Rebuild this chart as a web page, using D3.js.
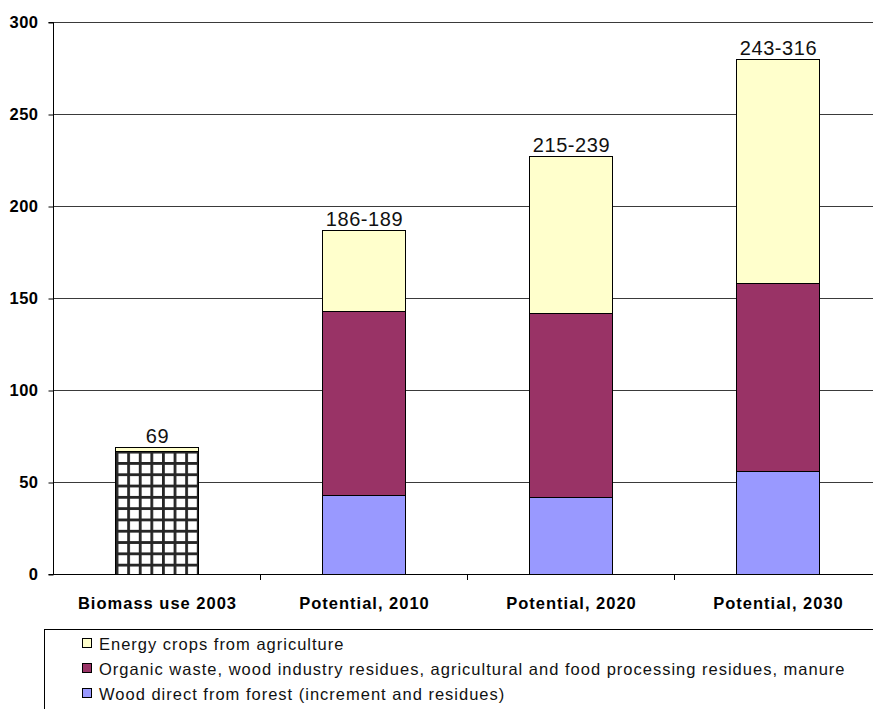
<!DOCTYPE html>
<html>
<head>
<meta charset="utf-8">
<script src="https://cdn.jsdelivr.net/npm/d3@7"></script>
<style>
  html, body { margin: 0; padding: 0; background: #fff; }
  svg { display: block; font-family: "Liberation Sans", Arial, sans-serif; }
</style>
</head>
<body>
<svg id="chart" width="873" height="709"></svg>
<script>
// Biomass use in 2003 and estimated potentials
const categories = ["Biomass use 2003", "Potential, 2010", "Potential, 2020", "Potential, 2030"];
const biomassUse = [67, 0, 0, 0];          // historic use, hatched
const woodForest = [0, 43, 42, 56];        // Wood direct from forest
const organicWaste = [0, 100, 100, 102];   // Organic waste, residues, manure
const energyCrops = [2, 44, 85, 122];      // Energy crops from agriculture
const rangeLabels = ["69", "186-189", "215-239", "243-316"];
const yTicks = [0, 50, 100, 150, 200, 250, 300];

const seriesNames = [
  "Energy crops from agriculture",
  "Organic waste, wood industry residues, agricultural and food processing residues, manure",
  "Wood direct from forest (increment and residues)"
];

const svg = d3.select("#chart");

const plot = { left: 53, right: 881, top: 22, bottom: 574 };

const x = d3.scaleBand().domain(categories).range([plot.left, plot.right]).padding(0);
const y = d3.scaleLinear().domain([0, 300]).range([plot.bottom, plot.top]);
const barW = x.bandwidth() * 0.4;

// hatch pattern for the historic bar
const defs = svg.append("defs");
const pat = defs.append("pattern")
  .attr("id", "grid")
  .attr("patternUnits", "userSpaceOnUse")
  .attr("width", 11.6).attr("height", 11.3)
  .attr("x", x(categories[0]) + x.bandwidth() / 2 - barW / 2 + 0.5)
  .attr("y", y(biomassUse[0]));
pat.append("rect").attr("width", 11.6).attr("height", 11.3).attr("fill", "#fff");
pat.append("rect").attr("x", 0).attr("y", 0).attr("width", 2.8).attr("height", 11.3).attr("fill", "#262626");
pat.append("rect").attr("x", 0).attr("y", 0).attr("width", 11.6).attr("height", 2.8).attr("fill", "#262626");

// horizontal gridlines
svg.append("g")
  .selectAll("line")
  .data(yTicks.filter(d => d > 0))
  .join("line")
  .attr("x1", plot.left).attr("x2", plot.right)
  .attr("y1", d => Math.round(y(d)) + 0.5).attr("y2", d => Math.round(y(d)) + 0.5)
  .attr("stroke", "#3a3a3a").attr("stroke-width", 1);

// stacked bars
const rows = categories.map((c, i) => ({
  cat: c,
  biomass: biomassUse[i],
  wood: woodForest[i],
  organic: organicWaste[i],
  crops: energyCrops[i]
}));
const keys = ["biomass", "wood", "organic", "crops"];
const fills = { biomass: "url(#grid)", wood: "#9999ff", organic: "#993366", crops: "#ffffcc" };
const stack = d3.stack().keys(keys)(rows);

svg.append("g")
  .selectAll("g")
  .data(stack)
  .join("g")
  .attr("fill", d => fills[d.key])
  .selectAll("rect")
  .data(d => d.filter(s => s[1] - s[0] > 0))
  .join("rect")
  .attr("x", d => Math.round(x(d.data.cat) + x.bandwidth() / 2 - barW / 2) + 0.5)
  .attr("width", Math.round(barW))
  .attr("y", d => Math.round(y(d[1])) + 0.5)
  .attr("height", d => Math.round(y(d[0])) - Math.round(y(d[1])))
  .attr("stroke", "#000").attr("stroke-width", 1);

// value labels above bars
const totals = rows.map(r => r.biomass + r.wood + r.organic + r.crops);
svg.append("g")
  .selectAll("text")
  .data(categories)
  .join("text")
  .attr("x", d => x(d) + x.bandwidth() / 2 + 1)
  .attr("y", (d, i) => y(totals[i]) - 4)
  .attr("text-anchor", "middle")
  .attr("font-size", 20)
  .attr("letter-spacing", 0.6)
  .attr("fill", "#111")
  .text((d, i) => rangeLabels[i]);

// y axis
const yAxis = d3.axisLeft(y).tickValues(yTicks).tickSize(5).tickPadding(10).tickFormat(d3.format("d"));
const gy = svg.append("g").attr("transform", `translate(${plot.left + 0.5},0)`).call(yAxis);
gy.select(".domain").attr("stroke", "#000").attr("d", `M-5,${plot.top + 0.5}H0V${plot.bottom + 0.5}H-5`);
gy.selectAll(".tick line").attr("stroke", "#000").attr("transform", "translate(0,0.5)");
gy.selectAll(".tick text")
  .attr("font-family", "Liberation Sans, Arial, sans-serif")
  .attr("font-size", 16.5).attr("font-weight", "bold")
  .attr("letter-spacing", 0.5).attr("fill", "#000");

// x axis with ticks between categories
const xg = svg.append("g");
xg.append("line")
  .attr("x1", plot.left).attr("x2", plot.right)
  .attr("y1", plot.bottom + 0.5).attr("y2", plot.bottom + 0.5)
  .attr("stroke", "#000");
xg.selectAll("line.tick")
  .data(categories.slice(1))
  .join("line")
  .attr("class", "tick")
  .attr("x1", d => Math.round(x(d)) + 0.5).attr("x2", d => Math.round(x(d)) + 0.5)
  .attr("y1", plot.bottom).attr("y2", plot.bottom + 6)
  .attr("stroke", "#000");
xg.selectAll("text")
  .data(categories)
  .join("text")
  .attr("x", d => x(d) + x.bandwidth() / 2 + 1)
  .attr("y", 609)
  .attr("text-anchor", "middle")
  .attr("font-size", 16.5).attr("font-weight", "bold")
  .attr("letter-spacing", 1)
  .text(d => d);

// legend
const lg = svg.append("g");
lg.append("rect")
  .attr("x", 44.5).attr("y", 629.5)
  .attr("width", 900).attr("height", 100)
  .attr("fill", "#fff").attr("stroke", "#000");
const legendFills = ["#ffffcc", "#993366", "#9999ff"];
const items = lg.selectAll("g.item")
  .data(seriesNames)
  .join("g")
  .attr("class", "item")
  .attr("transform", (d, i) => `translate(0,${644 + i * 25})`);
items.append("rect")
  .attr("x", 82.5).attr("y", -5.5)
  .attr("width", 9).attr("height", 9)
  .attr("fill", (d, i) => legendFills[i])
  .attr("stroke", "#000");
items.append("text")
  .attr("x", 99).attr("y", 6)
  .attr("font-size", 16.5)
  .attr("letter-spacing", 1)
  .attr("fill", "#111")
  .text(d => d);
</script>
</body>
</html>
